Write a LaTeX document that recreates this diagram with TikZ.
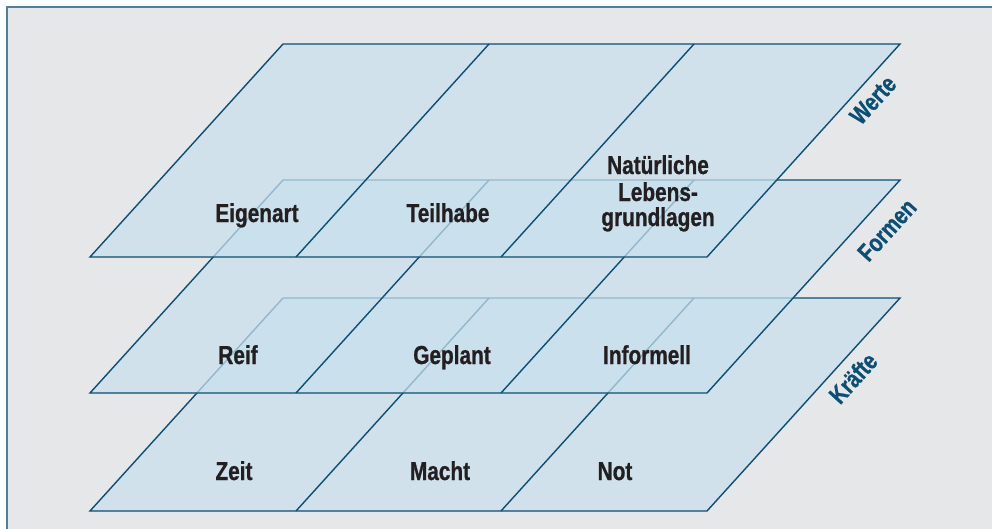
\documentclass[tikz,border=0pt]{standalone}
\usepackage{fontspec}
\newfontfamily\labfont{Liberation Sans}[FakeStretch=0.8,BoldFont={Liberation Sans Bold},BoldFeatures={FakeBold=0.8}]
\definecolor{framecol}{HTML}{4F7F9C}
\definecolor{bggray}{HTML}{E6E7E9}
\definecolor{planeblue}{HTML}{C8E0EE}
\definecolor{linecol}{HTML}{0B4F74}
\definecolor{txtcol}{HTML}{231F20}
\tikzset{
  planefill/.style={fill=planeblue, fill opacity=0.72},
  planeline/.style={draw=linecol, line width=1.4pt, line join=miter},
  lab/.style={text=txtcol, font=\labfont\bfseries\fontsize{26}{27}\selectfont, anchor=base, inner sep=0pt, align=center},
  sidelab/.style={text=linecol, font=\labfont\bfseries\fontsize{25}{26}\selectfont, rotate=47.8, inner sep=0pt},
  layer/.pic={
    \fill[planefill] (90,213) -- (707,213) -- (900,0) -- (283,0) -- cycle;
    \draw[planeline] (90,213) -- (707,213) -- (900,0) -- (283,0) -- cycle;
    \draw[planeline] (296,213) -- (489,0);
    \draw[planeline] (501,213) -- (694,0);
  }
}
\begin{document}
\begin{tikzpicture}[x=1pt,y=-1pt]
\useasboundingbox (0,0) rectangle (992,528);
\fill[white] (0,0) rectangle (992,528);
\fill[bggray] (7,7) rectangle (1000,540);
\draw[framecol, line width=1.6pt] (7,540) -- (7,7) -- (1000,7);
% layers, bottom first
\pic at (0,298) {layer};
\pic at (0,180) {layer};
\pic at (0,44) {layer};
% Werte labels
\node[lab] (eigenart) at (257,222) {Eigenart};
\node[lab] (teilhabe) at (448,222) {Teilhabe};
\node[lab] (natur1) at (658,174) {Natürliche};
\node[lab] (natur2) at (658,201) {Lebens-};
\node[lab] (natur3) at (658,226) {grundlagen};
% Formen labels
\node[lab] (reif) at (238,364) {Reif};
\node[lab] (geplant) at (452,364) {Geplant};
\node[lab] (informell) at (647,364) {Informell};
% Kraefte labels
\node[lab] (zeit) at (234,480) {Zeit};
\node[lab] (macht) at (440,480) {Macht};
\node[lab] (not) at (615,480) {Not};
% side labels
\node[sidelab] (werte) at (873,100) {Werte};
\node[sidelab] (formen) at (887,230) {Formen};
\node[sidelab] (kraefte) at (853,378) {Kräfte};
\end{tikzpicture}
\end{document}
